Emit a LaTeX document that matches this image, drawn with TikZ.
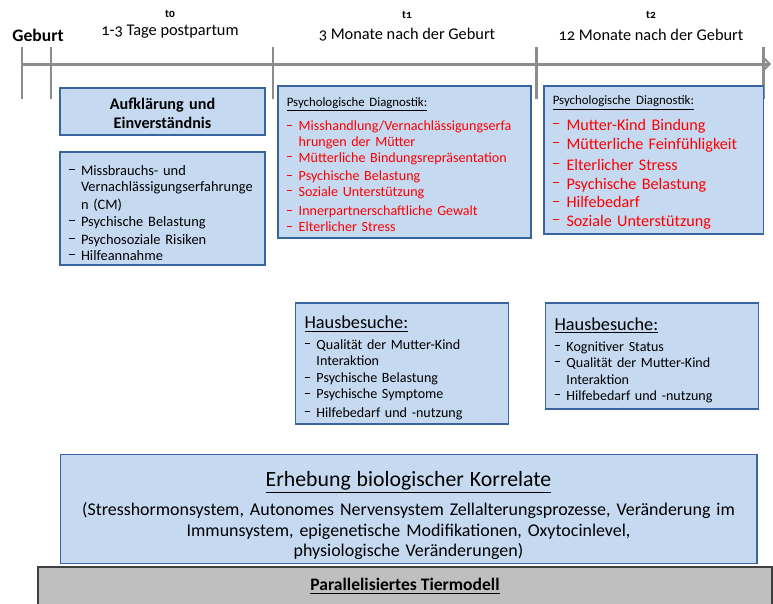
\documentclass[tikz,border=0pt]{standalone}
\usepackage{fontspec}
\setmainfont{Carlito}
\usetikzlibrary{arrows.meta}
\definecolor{boxfill}{HTML}{C5D9F0}
\definecolor{boxline}{HTML}{3A64A0}
\definecolor{tlgray}{HTML}{8C8C8C}
\definecolor{tiergray}{HTML}{BFBFBF}
\definecolor{itemred}{HTML}{FF0000}
\newcommand\dsh{\makebox[0.85em][l]{\raisebox{0.8ex}{\rule{0.4em}{0.13ex}}}}
\newcommand\ind{\hspace*{0.85em}}
\newcommand\old[1]{{\addfontfeature{Numbers=OldStyle}#1}}
\newcommand\psyhead{{\fontsize{7.3}{8}\selectfont\underline{Psychologische Diagnostik:}}}
\newcommand\haushead{{\fontsize{10.4}{12}\selectfont\underline{Hausbesuche:}}}

\begin{document}
\begin{tikzpicture}[
  x=0.02cm, y=-0.02cm,
  font=\fontsize{8}{9}\selectfont,
  tl/.style={draw=tlgray, line width=1.7pt},
  panel/.style={draw=boxline, fill=boxfill, line width=0.6pt, inner xsep=5pt, inner ysep=2pt, align=left},
  tlabel/.style={font=\fontsize{6.5}{8}\selectfont\bfseries},
  phase/.style={font=\fontsize{9.3}{11}\selectfont},
]
\useasboundingbox (0,0) rectangle (773,603);

% ---- timeline ----
\draw[tl, -{Straight Barb[length=4pt, width=8pt, line width=1.2pt]}] (22,64) coordinate (tlstart) -- (771,64) coordinate (tlend);
\foreach \x in {22, 51, 273, 536, 763} \draw[tl] (\x,47) -- (\x,99);
\node[font=\fontsize{10}{12}\selectfont\bfseries] (geburt) at (38,35) {Geburt};
\node[tlabel] (tzero)  at (170,14) {t\old{0}};
\node[phase]  (pzero)  at (170,32) {\old{1-3} Tage postpartum};
\node[tlabel] (tone)   at (407,15) {t\old{1}};
\node[phase]  (pone)   at (407,35) {\old{3} Monate nach der Geburt};
\node[tlabel] (ttwo)   at (651,15) {t\old{2}};
\node[phase]  (ptwo)   at (651,35) {\old{12} Monate nach der Geburt};

% ---- t0 ----
\node[panel, align=center, text width=3.75cm, minimum height=0.94cm, font=\fontsize{9.2}{10.8}\selectfont\bfseries] (aufk) at (162.5,111.5) {\rule{0pt}{9pt}Aufklärung und\\Einverständnis};
\node[panel, text width=3.75cm, minimum height=2.26cm, font=\fontsize{8.2}{9.3}\selectfont] (cm) at (162.5,208.5) {%
  \rule{0pt}{11pt}\dsh Missbrauchs- und\\\ind Vernachlässigungserfahrunge\\[1pt]\ind n (CM)\\
  \dsh Psychische Belastung\\[1pt]\dsh Psychosoziale Risiken\\\dsh Hilfeannahme};

% ---- t1 ----
\node[panel, text width=4.71cm, minimum height=3.04cm] (psyA) at (404.5,162) {%
  \rule{0pt}{8pt}\psyhead\\[5pt]
  \color{itemred}\dsh Misshandlung/Vernachlässigungserfa\\\ind hrungen der Mütter\\
  \dsh Mütterliche Bindungsrepräsentation\\[1.5pt]\dsh Psychische Belastung\\
  \dsh Soziale Unterstützung\\[2pt]\dsh Innerpartnerschaftliche Gewalt\\\dsh Elterlicher Stress};
\node[panel, text width=3.9cm, minimum height=2.42cm] (hausA) at (402,363.5) {%
  \rule{0pt}{12pt}\haushead\\[3pt]
  \dsh Qualität der Mutter-Kind\\\ind Interaktion\\[1pt]\dsh Psychische Belastung\\
  \dsh Psychische Symptome\\[1.5pt]\dsh Hilfebedarf und -nutzung};

% ---- t2 ----
\node[panel, text width=4.03cm, minimum height=2.96cm, font=\fontsize{9.2}{10.6}\selectfont] (psyB) at (653.5,160) {%
  \rule{0pt}{8pt}\psyhead\\[4pt]
  \color{itemred}\dsh Mutter-Kind Bindung\\\dsh Mütterliche Feinfühligkeit\\[1.5pt]
  \dsh Elterlicher Stress\\\dsh Psychische Belastung\\\dsh Hilfebedarf\\\dsh Soziale Unterstützung};
\node[panel, text width=3.9cm, minimum height=2.12cm] (hausB) at (652,356) {%
  \rule{0pt}{12pt}\haushead\\[3pt]
  \dsh Kognitiver Status\\\dsh Qualität der Mutter-Kind\\[1pt]\ind Interaktion\\\dsh Hilfebedarf und -nutzung};

% ---- biology / animal model ----
\node[panel, align=center, text width=13.59cm, minimum height=2.16cm, font=\fontsize{10.2}{11.6}\selectfont] (bio) at (408.5,509) {%
  \rule{0pt}{16pt}{\fontsize{12.4}{14}\selectfont\underline{Erhebung biologischer Korrelate}}\\[5pt]
  (Stresshormonsystem, Autonomes Nervensystem Zellalterungsprozesse, Veränderung im\\
  Immunsystem, epigenetische Modifikationen, Oxytocinlevel,\\
  physiologische Veränderungen)};
\node[draw=black!75, fill=tiergray, line width=0.8pt, minimum width=14.68cm, minimum height=0.78cm, inner sep=0pt, font=\fontsize{10}{12}\selectfont\bfseries] (tier) at (405,586.5) {\raisebox{1pt}{\underline{Parallelisiertes Tiermodell}}};
\end{tikzpicture}
\end{document}
